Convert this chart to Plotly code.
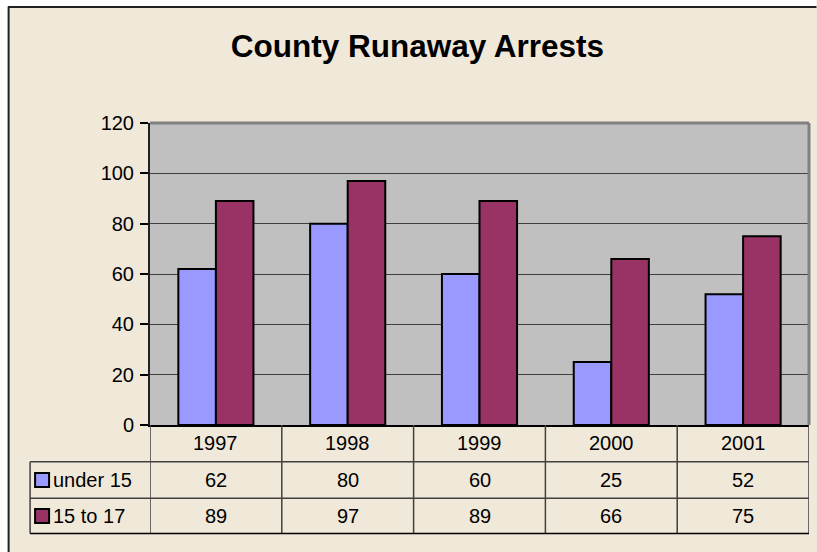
import plotly.graph_objects as go

# ---- data ----
years = ["1997", "1998", "1999", "2000", "2001"]
series_names = ["under 15", "15 to 17"]
under15 = [62, 80, 60, 25, 52]
age15to17 = [89, 97, 89, 66, 75]
series_values = [under15, age15to17]
series_colors = ["#9999FF", "#993366"]
title_text = "County Runaway Arrests"

# ---- geometry (pixels) ----
W, H = 817, 552
L, R = 150, 809.5
T, B = 123.3, 425
ROW_LINES = [461.7, 498.3, 533.3]
ROW_CENTERS = [443, 480, 516]
LEG_LEFT = 30
FRAME_X, FRAME_Y = 8, 7
FONT = "Arial, Liberation Sans, sans-serif"
LINE_C = "#404040"


def px_x(px):
    return (px - L) / (R - L)


def px_y(py):
    return (B - py) / (B - T)


fig = go.Figure()
for name, vals, col in zip(series_names, series_values, series_colors):
    fig.add_trace(go.Bar(
        x=years, y=vals, name=name,
        marker=dict(color=col, line=dict(color="black", width=2)),
    ))

shapes = []
annotations = []

# white strips outside the chart frame + frame lines (top & left)
shapes.append(dict(type="rect", xref="paper", yref="paper",
                   x0=px_x(0), x1=px_x(W), y0=px_y(FRAME_Y), y1=px_y(0),
                   fillcolor="white", line=dict(width=0), layer="below"))
shapes.append(dict(type="rect", xref="paper", yref="paper",
                   x0=px_x(0), x1=px_x(FRAME_X), y0=px_y(H), y1=px_y(0),
                   fillcolor="white", line=dict(width=0), layer="below"))
shapes.append(dict(type="line", xref="paper", yref="paper",
                   x0=px_x(FRAME_X), x1=px_x(W), y0=px_y(FRAME_Y + 0.5), y1=px_y(FRAME_Y + 0.5),
                   line=dict(color="#202020", width=2)))
shapes.append(dict(type="line", xref="paper", yref="paper",
                   x0=px_x(FRAME_X + 0.5), x1=px_x(FRAME_X + 0.5), y0=px_y(FRAME_Y), y1=px_y(H),
                   line=dict(color="#202020", width=2)))

# plot area border (top & right, gray)
shapes.append(dict(type="line", xref="paper", yref="paper",
                   x0=0, x1=1, y0=1, y1=1,
                   line=dict(color="#808080", width=3), layer="above"))
shapes.append(dict(type="line", xref="paper", yref="paper",
                   x0=1, x1=1, y0=0, y1=1,
                   line=dict(color="#808080", width=3), layer="above"))

# data table: vertical lines at category boundaries
n = len(years)
for i in range(n + 1):
    shapes.append(dict(type="line", xref="x", yref="paper",
                       x0=i - 0.5, x1=i - 0.5, y0=px_y(B), y1=px_y(ROW_LINES[-1]),
                       line=dict(color=LINE_C, width=1.5)))
# legend column left line
shapes.append(dict(type="line", xref="paper", yref="paper",
                   x0=px_x(LEG_LEFT), x1=px_x(LEG_LEFT),
                   y0=px_y(ROW_LINES[0]), y1=px_y(ROW_LINES[-1]),
                   line=dict(color=LINE_C, width=1.5)))
# horizontal lines
for yl in ROW_LINES:
    shapes.append(dict(type="line", xref="paper", yref="paper",
                       x0=px_x(LEG_LEFT), x1=1, y0=px_y(yl), y1=px_y(yl),
                       line=dict(color="black" if yl == ROW_LINES[-1] else LINE_C, width=1.5)))

# year labels (category index positions)
for i, yr in enumerate(years):
    annotations.append(dict(x=i, xref="x", y=px_y(ROW_CENTERS[0]), yref="paper",
                            text=yr, showarrow=False, xanchor="center", yanchor="middle",
                            font=dict(family=FONT, size=20, color="black")))
# values + legend keys
for r, (name, vals, col) in enumerate(zip(series_names, series_values, series_colors)):
    yc = ROW_CENTERS[r + 1]
    for i, v in enumerate(vals):
        annotations.append(dict(x=i, xref="x", y=px_y(yc), yref="paper",
                                text=str(v), showarrow=False, xanchor="center", yanchor="middle",
                                font=dict(family=FONT, size=20, color="black")))
    shapes.append(dict(type="rect", xref="paper", yref="paper",
                       x0=px_x(35), x1=px_x(49), y0=px_y(yc + 7), y1=px_y(yc - 7),
                       fillcolor=col, line=dict(color="black", width=2)))
    annotations.append(dict(x=px_x(51), xref="paper", y=px_y(yc), yref="paper",
                            text=name, showarrow=False, xanchor="left", yanchor="middle",
                            font=dict(family=FONT, size=20, color="black")))

fig.update_layout(
    width=W, height=H,
    margin=dict(l=L, r=W - R, t=T, b=H - B, pad=0),
    paper_bgcolor="#F0E8D9",
    plot_bgcolor="#C0C0C0",
    barmode="group", bargap=0.43, bargroupgap=0,
    showlegend=False,
    title=dict(text=title_text, x=417.4 / W, xref="container", xanchor="center",
               y=1 - 46 / H, yref="container", yanchor="middle",
               font=dict(family=FONT, size=31.5, color="black", weight="bold")),
    xaxis=dict(type="category", range=[-0.5, n - 0.5], showticklabels=False,
               ticks="", showgrid=False, showline=True, linecolor="black", linewidth=2,
               zeroline=False, fixedrange=True),
    yaxis=dict(range=[0, 120], dtick=20, tick0=0, showgrid=True, gridcolor=LINE_C, gridwidth=1,
               showline=True, linecolor="#202020", linewidth=2, ticks="outside",
               ticklen=8, tickwidth=1.5, tickcolor="black", zeroline=False,
               tickfont=dict(family=FONT, size=20, color="black"), ticklabelstandoff=2),
    shapes=shapes,
    annotations=annotations,
)

fig.write_html(
    "out.html",
    config={"displayModeBar": False},
    post_script="document.body.style.margin='0';document.body.style.overflow='hidden';",
)
